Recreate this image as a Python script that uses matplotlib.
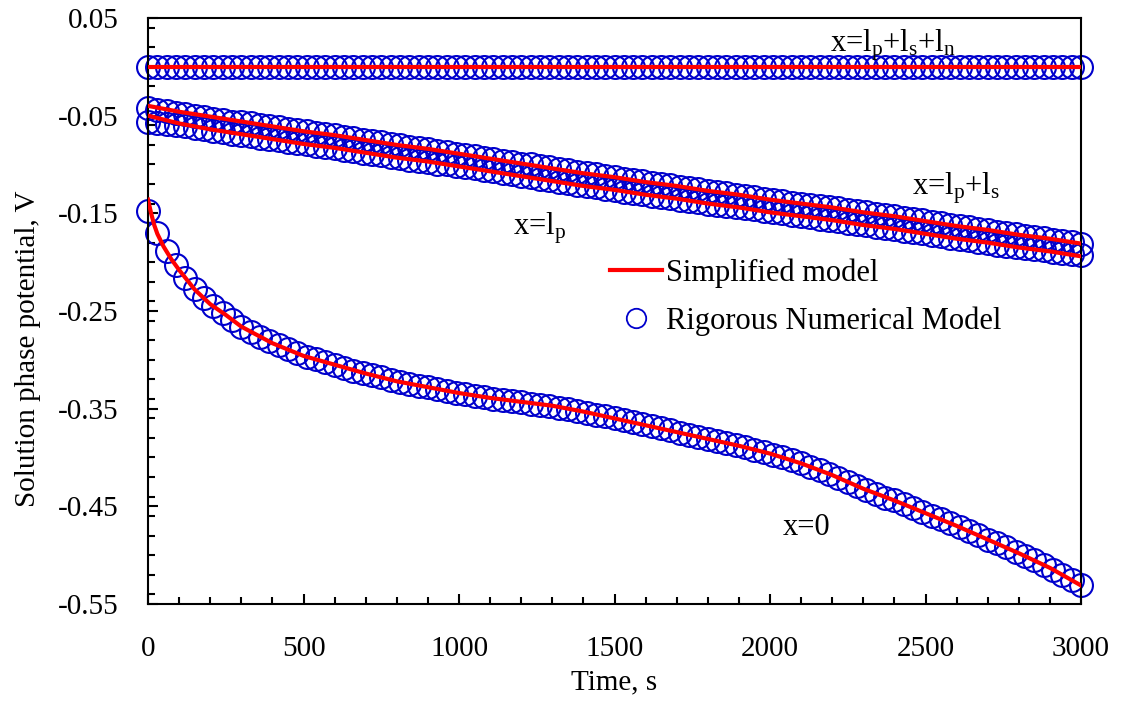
import matplotlib
matplotlib.use("Agg")
import matplotlib.pyplot as plt
from matplotlib.ticker import MultipleLocator, FormatStrFormatter

plt.rcParams["font.family"] = "Liberation Serif"
plt.rcParams["mathtext.default"] = "regular"
plt.rcParams["axes.unicode_minus"] = False

# rigorous numerical model, sampled every 30 s
t_rig = [
    0, 30, 60, 90, 120, 150, 180, 210, 240, 270,
    300, 330, 360, 390, 420, 450, 480, 510, 540, 570,
    600, 630, 660, 690, 720, 750, 780, 810, 840, 870,
    900, 930, 960, 990, 1020, 1050, 1080, 1110, 1140, 1170,
    1200, 1230, 1260, 1290, 1320, 1350, 1380, 1410, 1440, 1470,
    1500, 1530, 1560, 1590, 1620, 1650, 1680, 1710, 1740, 1770,
    1800, 1830, 1860, 1890, 1920, 1950, 1980, 2010, 2040, 2070,
    2100, 2130, 2160, 2190, 2220, 2250, 2280, 2310, 2340, 2370,
    2400, 2430, 2460, 2490, 2520, 2550, 2580, 2610, 2640, 2670,
    2700, 2730, 2760, 2790, 2820, 2850, 2880, 2910, 2940, 2970,
    3000,
]
rig_L = [
    0.0, 0.0, 0.0, 0.0, 0.0, 0.0, 0.0, 0.0, 0.0, 0.0,
    0.0, 0.0, 0.0, 0.0, 0.0, 0.0, 0.0, 0.0, 0.0, 0.0,
    0.0, 0.0, 0.0, 0.0, 0.0, 0.0, 0.0, 0.0, 0.0, 0.0,
    0.0, 0.0, 0.0, 0.0, 0.0, 0.0, 0.0, 0.0, 0.0, 0.0,
    0.0, 0.0, 0.0, 0.0, 0.0, 0.0, 0.0, 0.0, 0.0, 0.0,
    0.0, 0.0, 0.0, 0.0, 0.0, 0.0, 0.0, 0.0, 0.0, 0.0,
    0.0, 0.0, 0.0, 0.0, 0.0, 0.0, 0.0, 0.0, 0.0, 0.0,
    0.0, 0.0, 0.0, 0.0, 0.0, 0.0, 0.0, 0.0, 0.0, 0.0,
    0.0, 0.0, 0.0, 0.0, 0.0, 0.0, 0.0, 0.0, 0.0, 0.0,
    0.0, 0.0, 0.0, 0.0, 0.0, 0.0, 0.0, 0.0, 0.0, 0.0,
    0.0,
]
rig_lpls = [
    -0.042, -0.044, -0.045, -0.047, -0.048, -0.050, -0.051, -0.053, -0.054, -0.056,
    -0.057, -0.058, -0.060, -0.061, -0.062, -0.064, -0.065, -0.066, -0.068, -0.069,
    -0.070, -0.072, -0.073, -0.075, -0.076, -0.077, -0.079, -0.080, -0.082, -0.083,
    -0.084, -0.086, -0.087, -0.089, -0.090, -0.091, -0.093, -0.094, -0.096, -0.097,
    -0.099, -0.100, -0.102, -0.103, -0.105, -0.106, -0.108, -0.109, -0.110, -0.112,
    -0.113, -0.115, -0.116, -0.117, -0.119, -0.120, -0.121, -0.123, -0.124, -0.125,
    -0.127, -0.128, -0.129, -0.131, -0.132, -0.133, -0.135, -0.136, -0.137, -0.139,
    -0.140, -0.141, -0.143, -0.144, -0.145, -0.147, -0.148, -0.149, -0.151, -0.152,
    -0.153, -0.155, -0.156, -0.157, -0.159, -0.160, -0.162, -0.163, -0.164, -0.166,
    -0.167, -0.169, -0.170, -0.171, -0.173, -0.174, -0.175, -0.177, -0.178, -0.179,
    -0.181,
]
rig_lp = [
    -0.057, -0.058, -0.059, -0.060, -0.061, -0.063, -0.064, -0.066, -0.067, -0.069,
    -0.070, -0.071, -0.073, -0.074, -0.075, -0.077, -0.078, -0.079, -0.081, -0.082,
    -0.083, -0.085, -0.086, -0.088, -0.089, -0.090, -0.092, -0.093, -0.095, -0.096,
    -0.097, -0.099, -0.100, -0.102, -0.103, -0.104, -0.106, -0.107, -0.109, -0.110,
    -0.112, -0.113, -0.115, -0.116, -0.118, -0.119, -0.121, -0.122, -0.123, -0.125,
    -0.126, -0.128, -0.129, -0.130, -0.132, -0.133, -0.134, -0.136, -0.137, -0.138,
    -0.140, -0.141, -0.142, -0.144, -0.145, -0.146, -0.148, -0.149, -0.150, -0.152,
    -0.153, -0.154, -0.156, -0.157, -0.158, -0.160, -0.161, -0.162, -0.164, -0.165,
    -0.166, -0.168, -0.169, -0.170, -0.172, -0.173, -0.175, -0.176, -0.177, -0.179,
    -0.180, -0.182, -0.183, -0.184, -0.186, -0.187, -0.188, -0.190, -0.191, -0.192,
    -0.193,
]
rig_0 = [
    -0.148, -0.170, -0.189, -0.203, -0.216, -0.228, -0.237, -0.245, -0.252, -0.259,
    -0.266, -0.272, -0.277, -0.281, -0.285, -0.289, -0.293, -0.297, -0.299, -0.302,
    -0.305, -0.308, -0.311, -0.313, -0.316, -0.318, -0.321, -0.323, -0.325, -0.327,
    -0.328, -0.330, -0.332, -0.334, -0.335, -0.337, -0.338, -0.340, -0.341, -0.342,
    -0.343, -0.345, -0.346, -0.347, -0.349, -0.350, -0.352, -0.354, -0.356, -0.358,
    -0.360, -0.362, -0.364, -0.366, -0.368, -0.370, -0.372, -0.375, -0.377, -0.379,
    -0.381, -0.383, -0.385, -0.387, -0.389, -0.392, -0.394, -0.397, -0.400, -0.403,
    -0.406, -0.410, -0.413, -0.417, -0.421, -0.425, -0.429, -0.433, -0.437, -0.441,
    -0.444, -0.448, -0.452, -0.456, -0.460, -0.463, -0.467, -0.471, -0.475, -0.479,
    -0.484, -0.488, -0.492, -0.497, -0.501, -0.505, -0.510, -0.515, -0.520, -0.525,
    -0.531,
]

# simplified model
t_sim = [
    0, 100, 200, 300, 400, 500, 600, 700, 800, 900, 1000,
    1100, 1200, 1300, 1400, 1500, 1600, 1700, 1800, 1900, 2000,
    2100, 2200, 2300, 2400, 2500, 2600, 2700, 2800, 2900, 3000,
]
sim_L = [
    0.0, 0.0, 0.0, 0.0, 0.0, 0.0, 0.0, 0.0, 0.0, 0.0, 0.0,
    0.0, 0.0, 0.0, 0.0, 0.0, 0.0, 0.0, 0.0, 0.0, 0.0,
    0.0, 0.0, 0.0, 0.0, 0.0, 0.0, 0.0, 0.0, 0.0, 0.0,
]
sim_lpls = [
    -0.040, -0.046, -0.051, -0.056, -0.061, -0.066, -0.070, -0.075, -0.080, -0.084, -0.089,
    -0.094, -0.099, -0.104, -0.109, -0.113, -0.118, -0.122, -0.127, -0.131, -0.136,
    -0.140, -0.144, -0.149, -0.153, -0.158, -0.163, -0.167, -0.172, -0.176, -0.181,
]
sim_lp = [
    -0.050, -0.058, -0.064, -0.069, -0.074, -0.079, -0.083, -0.088, -0.093, -0.097, -0.102,
    -0.107, -0.112, -0.117, -0.122, -0.126, -0.131, -0.135, -0.140, -0.144, -0.149,
    -0.153, -0.157, -0.162, -0.166, -0.171, -0.176, -0.180, -0.185, -0.189, -0.194,
]
t_sim0 = [
    0, 10, 20, 30, 50, 75, 100, 150, 200, 250, 300, 400, 500, 600, 700, 800, 900, 1000,
    1100, 1200, 1300, 1400, 1500, 1600, 1700, 1800, 1900, 2000,
    2100, 2200, 2300, 2400, 2500, 2600, 2700, 2800, 2900, 3000,
]
sim_0 = [
    -0.136, -0.150, -0.162, -0.171, -0.184, -0.197, -0.208, -0.228, -0.243, -0.254,
    -0.266, -0.283, -0.296, -0.305, -0.314, -0.322, -0.328, -0.334,
    -0.339, -0.343, -0.347, -0.353, -0.360, -0.367, -0.374, -0.381, -0.388, -0.396,
    -0.406, -0.418, -0.432, -0.444, -0.457, -0.470, -0.484, -0.498, -0.513, -0.531,
]

fig = plt.figure(figsize=(11.23, 7.02), dpi=100)
ax = fig.add_axes([0.1318, 0.1396, 0.8308, 0.8348])

blue = "#0000cc"
for ys in (rig_L, rig_lpls, rig_lp, rig_0):
    ax.plot(t_rig, ys, linestyle="none", marker="o", markersize=16.5,
            markerfacecolor="none", markeredgecolor=blue, markeredgewidth=1.5,
            zorder=2, clip_on=False)
for ts, ys in ((t_sim, sim_L), (t_sim, sim_lpls), (t_sim, sim_lp), (t_sim0, sim_0)):
    ax.plot(ts, ys, color="red", linewidth=3, zorder=3)

ax.set_xlim(0, 3000)
ax.set_ylim(-0.55, 0.05)
ax.xaxis.set_major_locator(MultipleLocator(500))
ax.xaxis.set_minor_locator(MultipleLocator(100))
ax.set_yticks([-0.55, -0.45, -0.35, -0.25, -0.15, -0.05, 0.05])
ax.yaxis.set_minor_locator(MultipleLocator(0.02))
ax.yaxis.set_major_formatter(FormatStrFormatter("%.2f"))
ax.xaxis.set_major_formatter(FormatStrFormatter("%d"))

ax.tick_params(which="both", direction="in", top=False, right=False, width=1.5)
ax.tick_params(which="major", length=7, labelsize=21)
ax.tick_params(which="minor", length=5)
ax.tick_params(axis="x", which="major", pad=23)
ax.tick_params(axis="y", which="major", pad=21)
for sp in ax.spines.values():
    sp.set_linewidth(1.5)

ax.set_xlabel("Time, s", fontsize=21)
ax.xaxis.set_label_coords(0.5, -0.112)
ax.xaxis.label.set_va("top")
ax.set_ylabel("Solution phase potential, V", fontsize=21)
ax.yaxis.set_label_coords(-0.115, 0.435)

ax.text(2193, 0.0225, "x=l$_p$+l$_s$+l$_n$", fontsize=22, va="center", ha="left")
ax.text(2457, -0.124, "x=l$_p$+l$_s$", fontsize=22, va="center", ha="left")
ax.text(1174, -0.165, "x=l$_p$", fontsize=22, va="center", ha="left")
ax.text(2042, -0.472, "x=0", fontsize=22, va="center", ha="left")

h_line, = ax.plot([], [], color="red", linewidth=3)
h_mark, = ax.plot([], [], linestyle="none", marker="o", markersize=14,
                  markerfacecolor="none", markeredgecolor=blue, markeredgewidth=1.3)
ax.legend([h_line, h_mark], ["Simplified model", "Rigorous Numerical Model"],
          loc="upper left", bbox_to_anchor=(0.495, 0.59), frameon=False,
          fontsize=22, handlelength=1.7, handletextpad=0.15, borderpad=0,
          borderaxespad=0, labelspacing=0.62, numpoints=1)

fig.savefig("out.png", dpi=100)
